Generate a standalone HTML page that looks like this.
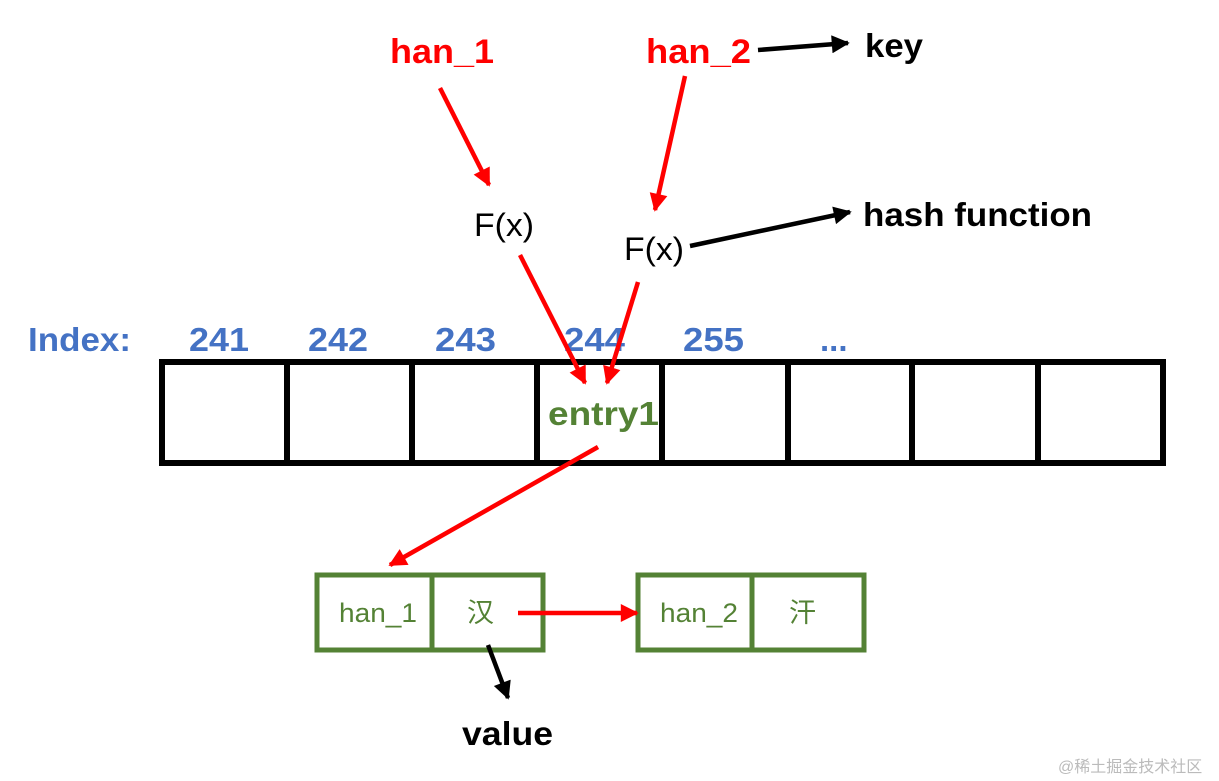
<!DOCTYPE html>
<html><head><meta charset="utf-8"><style>
html,body{margin:0;padding:0;background:#fff;width:1219px;height:781px;overflow:hidden}
svg text{font-family:"Liberation Sans","Noto Sans CJK SC",sans-serif}
</style></head><body>
<svg width="1219" height="781" viewBox="0 0 1219 781" xmlns="http://www.w3.org/2000/svg">
<defs>
<marker id="ar" viewBox="0 0 10 10" refX="9" refY="5" markerWidth="4.5" markerHeight="4" orient="auto" markerUnits="strokeWidth"><path d="M0,0 L10,5 L0,10 z" fill="#ff0000"/></marker>
<marker id="ab" viewBox="0 0 10 10" refX="9" refY="5" markerWidth="4.5" markerHeight="4" orient="auto" markerUnits="strokeWidth"><path d="M0,0 L10,5 L0,10 z" fill="#000"/></marker>
</defs>
<g font-weight="bold" font-size="34" fill="#ff0000">
<text x="390" y="63" textLength="104" lengthAdjust="spacingAndGlyphs">han_1</text>
<text x="646" y="63" textLength="105" lengthAdjust="spacingAndGlyphs">han_2</text>
</g>
<g font-weight="bold" font-size="33" fill="#000">
<text x="865" y="57" textLength="58" lengthAdjust="spacingAndGlyphs">key</text>
<text x="863" y="226" textLength="229" lengthAdjust="spacingAndGlyphs">hash function</text>
<text x="462" y="745" textLength="91" lengthAdjust="spacingAndGlyphs">value</text>
</g>
<g font-size="32" fill="#000">
<text x="474" y="236" textLength="60" lengthAdjust="spacingAndGlyphs">F(x)</text>
<text x="624" y="260" textLength="60" lengthAdjust="spacingAndGlyphs">F(x)</text>
</g>
<g font-weight="bold" font-size="33" fill="#4472c4">
<text x="28" y="351" textLength="103" lengthAdjust="spacingAndGlyphs">Index:</text>
<text x="189" y="351" textLength="60" lengthAdjust="spacingAndGlyphs">241</text>
<text x="308" y="351" textLength="60" lengthAdjust="spacingAndGlyphs">242</text>
<text x="435" y="351" textLength="61" lengthAdjust="spacingAndGlyphs">243</text>
<text x="564" y="351" textLength="61" lengthAdjust="spacingAndGlyphs">244</text>
<text x="683" y="351" textLength="61" lengthAdjust="spacingAndGlyphs">255</text>
<text x="820" y="351">...</text>
</g>
<g stroke="#000" stroke-width="6" fill="none">
<rect x="162" y="362" width="1001" height="101"/>
<path d="M287 362V463M412 362V463M537 362V463M662 362V463M788 362V463M912 362V463M1038 362V463"/>
</g>
<text x="548" y="425" font-weight="bold" font-size="33" fill="#548235" textLength="111" lengthAdjust="spacingAndGlyphs">entry1</text>
<g stroke="#548235" stroke-width="5" fill="none">
<rect x="317" y="575" width="226" height="75"/>
<path d="M432 575V650"/>
<rect x="638" y="575" width="226" height="75"/>
<path d="M752 575V650"/>
</g>
<g font-size="27" fill="#548235">
<text x="339" y="622" textLength="78" lengthAdjust="spacingAndGlyphs">han_1</text>
<text x="467" y="622" font-family="'Noto Sans CJK SC',sans-serif">汉</text>
<text x="660" y="622" textLength="78" lengthAdjust="spacingAndGlyphs">han_2</text>
<text x="789" y="622" font-family="'Noto Sans CJK SC',sans-serif">汗</text>
</g>
<g stroke="#ff0000" stroke-width="4.5" fill="none" marker-end="url(#ar)">
<line x1="440" y1="88" x2="489" y2="185"/>
<line x1="685" y1="76" x2="655" y2="210"/>
<line x1="520" y1="255" x2="585" y2="383"/>
<line x1="638" y1="282" x2="607" y2="383"/>
<line x1="598" y1="447" x2="390" y2="565"/>
<line x1="518" y1="613" x2="637" y2="613"/>
</g>
<g stroke="#000" stroke-width="4.5" fill="none" marker-end="url(#ab)">
<line x1="758" y1="50" x2="848" y2="43"/>
<line x1="690" y1="246" x2="850" y2="212"/>
<line x1="488" y1="645" x2="508" y2="698"/>
</g>
<text x="1058" y="772" font-size="16" fill="#bbb" font-family="'Liberation Sans','Noto Sans CJK SC',sans-serif">@稀土掘金技术社区</text>
</svg>
</body></html>
